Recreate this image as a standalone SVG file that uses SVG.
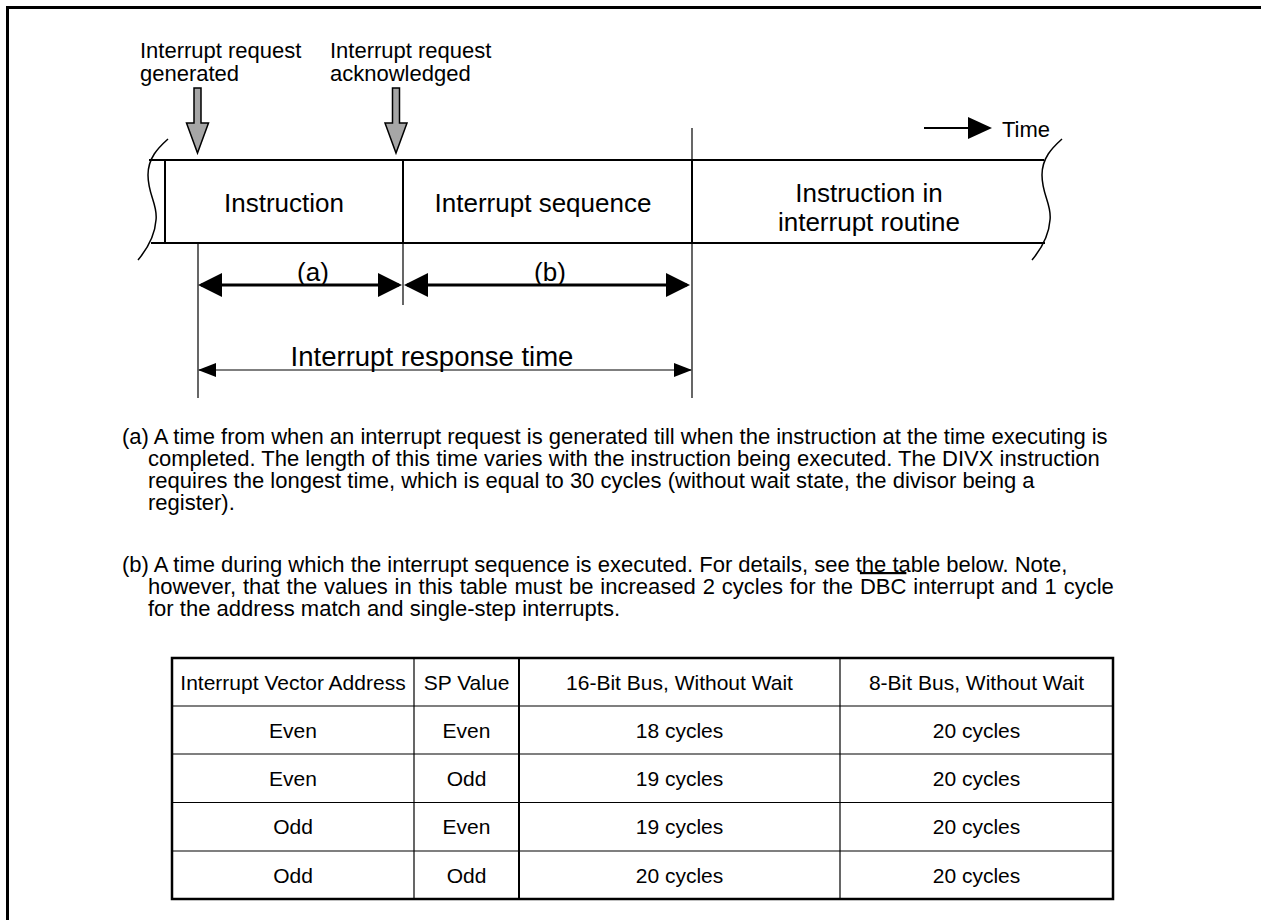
<svg xmlns="http://www.w3.org/2000/svg" width="1261" height="920" viewBox="0 0 1261 920">
<defs>
<marker id="ah" markerUnits="userSpaceOnUse" markerWidth="24" markerHeight="24" refX="21" refY="12" orient="auto-start-reverse" viewBox="0 0 24 24"><path d="M0,0 L24,12 L0,24 z" fill="#000"/></marker>
<marker id="as" markerUnits="userSpaceOnUse" markerWidth="18" markerHeight="14" refX="17" refY="7" orient="auto-start-reverse" viewBox="0 0 18 14"><path d="M0,0 L18,7 L0,14 z" fill="#000"/></marker>
</defs>
<style>
text{font-family:"Liberation Sans",Arial,Helvetica,sans-serif;fill:#000}
.lbl{font-size:22px}
.big{font-size:26px;text-anchor:middle}
.body{font-size:22px}
.tbl{font-size:21px;text-anchor:middle}
.ln{stroke:#000;fill:none}
.gray{fill:#a6a6a6;stroke:#000;stroke-width:1.5;stroke-linejoin:miter}
</style>
<rect x="0" y="0" width="1261" height="920" fill="#fff"/>
<g id="frame">
<line class="ln" x1="6" y1="7.5" x2="1261" y2="7.5" stroke-width="3"/>
<line class="ln" x1="7.5" y1="6" x2="7.5" y2="920" stroke-width="3"/>
</g>
<g id="label-generated">
<text class="lbl" x="140" y="58">Interrupt request</text>
<text class="lbl" x="140" y="81">generated</text>
<polygon class="gray" points="194,88 201,88 201,123 208.5,123 197.5,153 186.5,123 194,123"/>
</g>
<g id="label-acknowledged">
<text class="lbl" x="330" y="58">Interrupt request</text>
<text class="lbl" x="330" y="81">acknowledged</text>
<polygon class="gray" points="392.5,88 399.5,88 399.5,123 407,123 396,153 385,123 392.5,123"/>
</g>
<g id="time-legend">
<line class="ln" x1="924" y1="128" x2="970" y2="128" stroke-width="2"/>
<polygon points="968,117 992,128 968,139" fill="#000"/>
<text class="lbl" x="1002" y="137">Time</text>
</g>
<g id="timeline">
<line class="ln" x1="149" y1="160" x2="1044" y2="160" stroke-width="2"/>
<line class="ln" x1="151" y1="243" x2="1045" y2="243" stroke-width="2"/>
<path class="ln" stroke-width="1.5" d="M168,139 C158,148 148,158 148,175 C148,195 158,205 156,220 C155,235 148,248 138,260"/>
<path class="ln" stroke-width="1.5" d="M1062,139 C1052,148 1042,158 1042,175 C1042,195 1052,205 1050,220 C1049,235 1042,248 1032,260"/>
<line class="ln" x1="165" y1="160" x2="165" y2="243" stroke-width="2"/>
</g>
<g id="node-instruction">
<text class="big" x="284" y="212">Instruction</text>
</g>
<g id="node-sequence">
<line class="ln" x1="403" y1="160" x2="403" y2="243" stroke-width="2"/>
<text class="big" x="543" y="212">Interrupt sequence</text>
</g>
<g id="node-routine">
<line class="ln" x1="692" y1="160" x2="692" y2="243" stroke-width="2"/>
<text class="big" x="869" y="202">Instruction in</text>
<text class="big" x="869" y="231">interrupt routine</text>
</g>
<g id="connectors">
<line class="ln" x1="403" y1="243" x2="403" y2="305" stroke-width="1.2"/>
<line class="ln" x1="692" y1="128" x2="692" y2="160" stroke-width="1.2"/>
<line class="ln" x1="692" y1="243" x2="692" y2="398" stroke-width="1.2"/>
<line class="ln" x1="198" y1="243" x2="198" y2="398" stroke-width="1.2"/>
<line class="ln" x1="201" y1="285" x2="399" y2="285" stroke-width="3" marker-start="url(#ah)" marker-end="url(#ah)"/>
<line class="ln" x1="407" y1="285" x2="687" y2="285" stroke-width="3" marker-start="url(#ah)" marker-end="url(#ah)"/>
<line class="ln" x1="199" y1="370" x2="691" y2="370" stroke-width="1.2" marker-start="url(#as)" marker-end="url(#as)"/>
<text class="big" x="313" y="281">(a)</text>
<text class="big" x="550" y="281">(b)</text>
<text class="big" x="432" y="366" style="font-size:27.5px">Interrupt response time</text>
</g>
<g id="notes">
<text class="body" x="122" y="444">(a) A time from when an interrupt request is generated till when the instruction at the time executing is</text>
<text class="body" x="148" y="466">completed. The length of this time varies with the instruction being executed. The DIVX instruction</text>
<text class="body" x="148" y="488">requires the longest time, which is equal to 30 cycles (without wait state, the divisor being a</text>
<text class="body" x="148" y="510">register).</text>
<text class="body" x="122" y="572">(b) A time during which the interrupt sequence is executed. For details, see the table below. Note,</text>
<text class="body" x="148" y="594" word-spacing="0.8">however, that the values in this table must be increased 2 cycles for the <tspan style="text-decoration:overline">DBC</tspan> interrupt and 1 cycle</text>
<text class="body" x="148" y="616">for the address match and single-step interrupts.</text>
</g>
<g id="table">
<rect x="172" y="658" width="941" height="241" fill="none" stroke="#000" stroke-width="2.5"/>
<g class="ln" stroke-width="1.2">
<line x1="172" y1="706" x2="1113" y2="706"/>
<line x1="172" y1="754" x2="1113" y2="754"/>
<line x1="172" y1="802.5" x2="1113" y2="802.5"/>
<line x1="172" y1="851" x2="1113" y2="851"/>
<line x1="414" y1="658" x2="414" y2="899"/>
<line x1="840" y1="658" x2="840" y2="899"/>
</g>
<line class="ln" x1="519" y1="658" x2="519" y2="899" stroke-width="2"/>
<text class="tbl" x="293" y="690">Interrupt Vector Address</text>
<text class="tbl" x="466.5" y="690">SP Value</text>
<text class="tbl" x="679.5" y="690">16-Bit Bus, Without Wait</text>
<text class="tbl" x="976.5" y="690">8-Bit Bus, Without Wait</text>
<text class="tbl" x="293" y="738">Even</text>
<text class="tbl" x="466.5" y="738">Even</text>
<text class="tbl" x="679.5" y="738">18 cycles</text>
<text class="tbl" x="976.5" y="738">20 cycles</text>
<text class="tbl" x="293" y="786">Even</text>
<text class="tbl" x="466.5" y="786">Odd</text>
<text class="tbl" x="679.5" y="786">19 cycles</text>
<text class="tbl" x="976.5" y="786">20 cycles</text>
<text class="tbl" x="293" y="834">Odd</text>
<text class="tbl" x="466.5" y="834">Even</text>
<text class="tbl" x="679.5" y="834">19 cycles</text>
<text class="tbl" x="976.5" y="834">20 cycles</text>
<text class="tbl" x="293" y="883">Odd</text>
<text class="tbl" x="466.5" y="883">Odd</text>
<text class="tbl" x="679.5" y="883">20 cycles</text>
<text class="tbl" x="976.5" y="883">20 cycles</text>
</g>
</svg>
